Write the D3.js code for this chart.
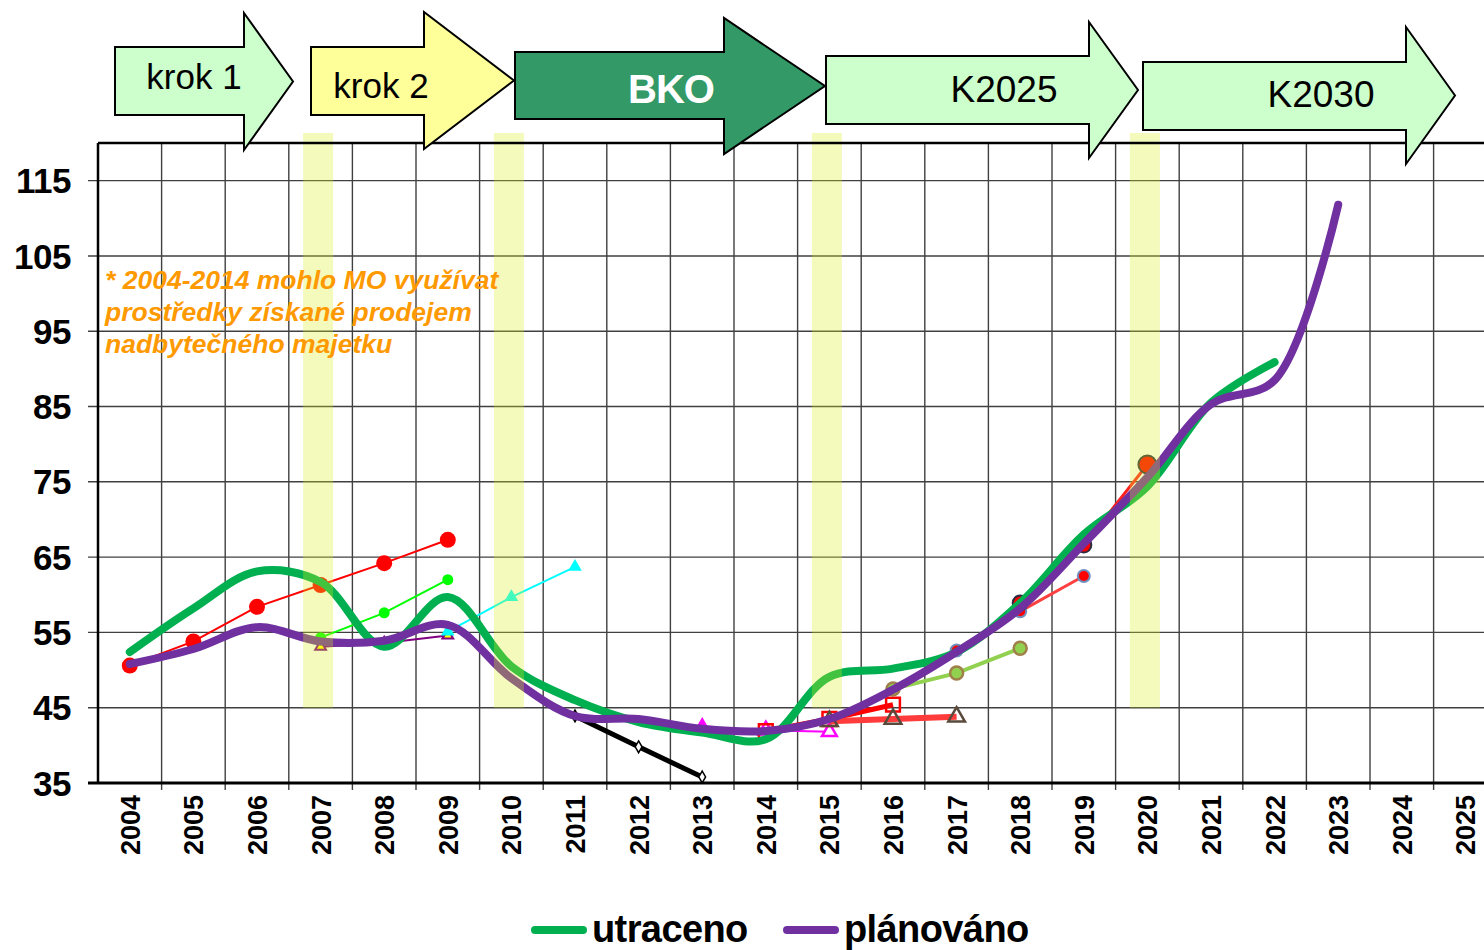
<!DOCTYPE html>
<html>
<head>
<meta charset="utf-8">
<script src="https://cdn.jsdelivr.net/npm/d3@7"></script>
<style>
  body { margin: 0; background: #fff; }
  svg { display: block; font-family: "Liberation Sans", Arial, sans-serif; }
</style>
</head>
<body>
<svg id="chart" width="1484" height="950"></svg>
<script>
// ---- data ----
const years = d3.range(2004, 2026);
const yTicks = [35, 45, 55, 65, 75, 85, 95, 105, 115];

const utracenoYears = d3.range(2004, 2023);
const utraceno = [52.4, 58.2, 63.1, 61.7, 53.1, 59.7, 50.5, 46.0, 43.1, 41.7, 40.8, 49.1, 50.2, 52.4, 58.9, 68.0, 74.4, 85.5, 90.9];

const planovanoYears = d3.range(2004, 2024);
const planovano = [50.8, 52.8, 55.7, 53.8, 53.9, 56.0, 48.9, 43.9, 43.5, 42.2, 41.9, 43.5, 47.4, 52.4, 58.2, 66.8, 75.6, 85.3, 88.5, 111.8];

// older plan forecasts (short segments)
const plan2004Years = [2004, 2005, 2006, 2007, 2008, 2009];
const plan2004 = [50.6, 53.8, 58.4, 61.3, 64.2, 67.3];
const plan2007Years = [2007, 2008, 2009];
const plan2007 = [54.3, 57.6, 62.0];
const plan2007bYears = [2007, 2008, 2009];
const plan2007b = [53.1, 53.6, 54.6];
const plan2009Years = [2009, 2010, 2011];
const plan2009 = [55.1, 59.7, 63.7];
const plan2011Years = [2011, 2012, 2013];
const plan2011 = [43.9, 39.8, 35.8];
const plan2013Years = [2013, 2014, 2015];
const plan2013 = [42.3, 42.0, 41.8];
const plan2014Years = [2014, 2015, 2016];
const plan2014 = [41.9, 43.5, 45.4];
const plan2015Years = [2015, 2016, 2017];
const plan2015 = [43.2, 43.5, 43.8];
const plan2016Years = [2016, 2017, 2018];
const plan2016 = [47.5, 49.6, 52.9];
const plan2017Years = [2017, 2018, 2019];
const plan2017 = [52.6, 57.8, 62.5];
const plan2018Years = [2018, 2019, 2020];
const plan2018 = [58.9, 66.6, 77.3];

const highlightYears = [2007, 2010, 2015, 2020];

const steps = [
  { label: 'krok 1', fill: '#ccffcc' },
  { label: 'krok 2', fill: '#ffff99' },
  { label: 'BKO', fill: '#339966' },
  { label: 'K2025', fill: '#ccffcc' },
  { label: 'K2030', fill: '#ccffcc' }
];

const note = ['* 2004-2014 mohlo MO využívat', 'prostředky získané prodejem', 'nadbytečného majetku'];

// ---- layout ----
const svg = d3.select('#chart');
const plotLeft = 98, plotTop = 143, plotBottom = 783, band = 63.6;
const plotRight = plotLeft + band * years.length;

const x = d3.scaleBand().domain(years).range([plotLeft, plotRight]).padding(0);
const cx = d => x(d) + x.bandwidth() / 2;
const y = d3.scaleLinear().domain([35, 120]).range([plotBottom, plotTop]);

// grid
const grid = svg.append('g');
grid.selectAll('line.v')
  .data(years.slice(1).map(d => x(d)).concat([plotRight]))
  .enter().append('line')
  .attr('x1', d => d).attr('x2', d => d)
  .attr('y1', plotTop).attr('y2', plotBottom + 7)
  .attr('stroke', '#404040').attr('stroke-width', 1.4);
grid.selectAll('line.h')
  .data(yTicks)
  .enter().append('line')
  .attr('x1', plotLeft - 10).attr('x2', 1484)
  .attr('y1', d => y(d)).attr('y2', d => y(d))
  .attr('stroke', '#404040').attr('stroke-width', 1.4);

// small forecast series
const small = [
  { yrs: plan2004Years, vals: plan2004, color: '#ff0000', w: 2, sym: 'circle', r: 8, fill: '#ff0000', stroke: 'none' },
  { yrs: plan2007Years, vals: plan2007, color: '#00ff00', w: 2, sym: 'circle', r: 5.5, fill: '#00ff00', stroke: 'none' },
  { yrs: plan2007bYears, vals: plan2007b, color: '#800080', w: 2, sym: 'triangle', r: 50, fill: '#ffff00', stroke: '#800080', sw: 2 },
  { yrs: plan2009Years, vals: plan2009, color: '#00ffff', w: 2, sym: 'triangle', r: 80, fill: '#00ffff', stroke: 'none' },
  { yrs: plan2011Years, vals: plan2011, color: '#000000', w: 5, sym: 'diamond', r: 40, fill: '#ffffff', stroke: '#000', sw: 1.5 },
  { yrs: plan2013Years, vals: plan2013, color: '#ff00ff', w: 2, sym: 'triangle', r: 95, fill: '#ffffff', stroke: '#ff00ff', sw: 2.5, firstFill: '#ff00ff' },
  { yrs: plan2014Years, vals: plan2014, color: '#ff0000', w: 5, sym: 'square', r: 190, fill: 'none', stroke: '#ff0000', sw: 2.5 },
  { yrs: plan2015Years, vals: plan2015, color: '#ff3b3b', w: 6, sym: 'triangle', r: 120, fill: 'none', stroke: '#5a4a3c', sw: 2.5 },
  { yrs: plan2016Years, vals: plan2016, color: '#92d050', w: 4, sym: 'circle', r: 6.5, fill: '#92d050', stroke: '#a0804a', sw: 2.5 },
  { yrs: plan2017Years, vals: plan2017, color: '#ff4040', w: 3, sym: 'circle', r: 6, fill: '#ff0000', stroke: '#6f8fbf', sw: 2 },
  { yrs: plan2018Years, vals: plan2018, color: '#ff2020', w: 3, sym: 'circle', r: 7.5, fill: '#ff0000', stroke: '#2b2b40', sw: 2, lastR: 9 }
];

const symType = { triangle: d3.symbolTriangle, square: d3.symbolSquare, diamond: d3.symbolDiamond };

const smallG = svg.append('g');
small.forEach(s => {
  const pts = s.yrs.map((yr, i) => [cx(yr), y(s.vals[i])]);
  smallG.append('path')
    .attr('d', d3.line()(pts))
    .attr('fill', 'none').attr('stroke', s.color).attr('stroke-width', s.w);
  pts.forEach((p, i) => {
    const fill = (i === 0 && s.firstFill) ? s.firstFill : s.fill;
    if (s.sym === 'circle') {
      smallG.append('circle')
        .attr('cx', p[0]).attr('cy', p[1])
        .attr('r', (s.lastR && i === pts.length - 1) ? s.lastR : s.r)
        .attr('fill', fill).attr('stroke', s.stroke).attr('stroke-width', s.sw || 0);
    } else {
      smallG.append('path')
        .attr('transform', `translate(${p[0]},${p[1]})`)
        .attr('d', d3.symbol().type(symType[s.sym]).size(s.r)())
        .attr('fill', fill).attr('stroke', s.stroke).attr('stroke-width', s.sw || 0);
    }
  });
});

// main lines
const smooth = d3.line().curve(d3.curveCatmullRom.alpha(0.5));
svg.append('path')
  .attr('d', smooth(utracenoYears.map((yr, i) => [cx(yr), y(utraceno[i])])))
  .attr('fill', 'none').attr('stroke', '#00b050').attr('stroke-width', 8).attr('stroke-linecap', 'round');
svg.append('path')
  .attr('d', smooth(planovanoYears.map((yr, i) => [cx(yr), y(planovano[i])])))
  .attr('fill', 'none').attr('stroke', '#7030a0').attr('stroke-width', 8).attr('stroke-linecap', 'round');

// yellow highlight bands
svg.append('g').selectAll('rect')
  .data(highlightYears)
  .enter().append('rect')
  .attr('x', d => cx(d) - 17.5).attr('width', 30)
  .attr('y', 133).attr('height', y(45) - 133)
  .attr('fill', 'rgb(220,240,30)').attr('opacity', 0.3);

// axes frame
svg.append('line').attr('x1', plotLeft).attr('x2', plotLeft).attr('y1', plotTop).attr('y2', plotBottom)
  .attr('stroke', '#000').attr('stroke-width', 2.5);
svg.append('line').attr('x1', plotLeft - 10).attr('x2', 1484).attr('y1', plotBottom).attr('y2', plotBottom)
  .attr('stroke', '#000').attr('stroke-width', 3);
svg.append('line').attr('x1', plotLeft).attr('x2', 1484).attr('y1', plotTop).attr('y2', plotTop)
  .attr('stroke', '#000').attr('stroke-width', 2.5);

// tick labels
svg.append('g').selectAll('text')
  .data(yTicks)
  .enter().append('text')
  .attr('x', 71).attr('y', d => y(d)).attr('dy', '0.36em')
  .attr('text-anchor', 'end')
  .attr('font-size', 35).attr('font-weight', 'bold').attr('letter-spacing', -0.5)
  .text(d => d);

svg.append('g').selectAll('text')
  .data(years)
  .enter().append('text')
  .attr('transform', d => `translate(${cx(d) + 10},795) rotate(-90)`)
  .attr('text-anchor', 'end')
  .attr('font-size', 27).attr('font-weight', 'bold')
  .text(d => d);

// note
svg.append('text')
  .attr('font-size', 26.5).attr('font-weight', 'bold').attr('font-style', 'italic')
  .attr('fill', '#ff9900')
  .selectAll('tspan').data(note).enter().append('tspan')
  .attr('x', 105).attr('y', (d, i) => 289 + i * 32)
  .text(d => d);

// step arrows
const arrowBox = [
  { x0: 115, x1: 244, x2: 293, b0: 47, b1: 115, h0: 13, h1: 150, tx: 194, ty: 89, fs: 35, bold: false, tc: '#000' },
  { x0: 311, x1: 424, x2: 514, b0: 47, b1: 115, h0: 12, h1: 149, tx: 381, ty: 98, fs: 35, bold: false, tc: '#000' },
  { x0: 515, x1: 724, x2: 825, b0: 52, b1: 119, h0: 18, h1: 154, tx: 671, ty: 103, fs: 40, bold: true, tc: '#fff' },
  { x0: 826, x1: 1089, x2: 1138, b0: 56, b1: 124, h0: 22, h1: 158, tx: 1004, ty: 102, fs: 37, bold: false, tc: '#000' },
  { x0: 1143, x1: 1406, x2: 1455, b0: 62, b1: 130, h0: 27, h1: 164, tx: 1321, ty: 107, fs: 37, bold: false, tc: '#000' }
];
const ag = svg.append('g');
steps.forEach((s, i) => {
  const a = arrowBox[i];
  const p = d3.path();
  p.moveTo(a.x0, a.b0); p.lineTo(a.x1, a.b0); p.lineTo(a.x1, a.h0);
  p.lineTo(a.x2, (a.h0 + a.h1) / 2); p.lineTo(a.x1, a.h1); p.lineTo(a.x1, a.b1);
  p.lineTo(a.x0, a.b1); p.closePath();
  ag.append('path').attr('d', p.toString())
    .attr('fill', s.fill).attr('stroke', '#000').attr('stroke-width', 2).attr('stroke-linejoin', 'miter');
  ag.append('text').attr('x', a.tx).attr('y', a.ty)
    .attr('text-anchor', 'middle').attr('font-size', a.fs)
    .attr('font-weight', a.bold ? 'bold' : 'normal').attr('fill', a.tc)
    .attr('letter-spacing', a.bold ? -1 : 0)
    .text(s.label);
});

// legend
const legend = [
  { name: 'utraceno', color: '#00b050', x: 535 },
  { name: 'plánováno', color: '#7030a0', x: 787 }
];
const lg = svg.append('g');
legend.forEach(l => {
  lg.append('line').attr('x1', l.x).attr('x2', l.x + 48).attr('y1', 930).attr('y2', 930)
    .attr('stroke', l.color).attr('stroke-width', 8).attr('stroke-linecap', 'round');
  lg.append('text').attr('x', l.x + 57).attr('y', 942)
    .attr('font-size', 38).attr('font-weight', 'bold').attr('letter-spacing', -0.6)
    .text(l.name);
});
</script>
</body>
</html>
